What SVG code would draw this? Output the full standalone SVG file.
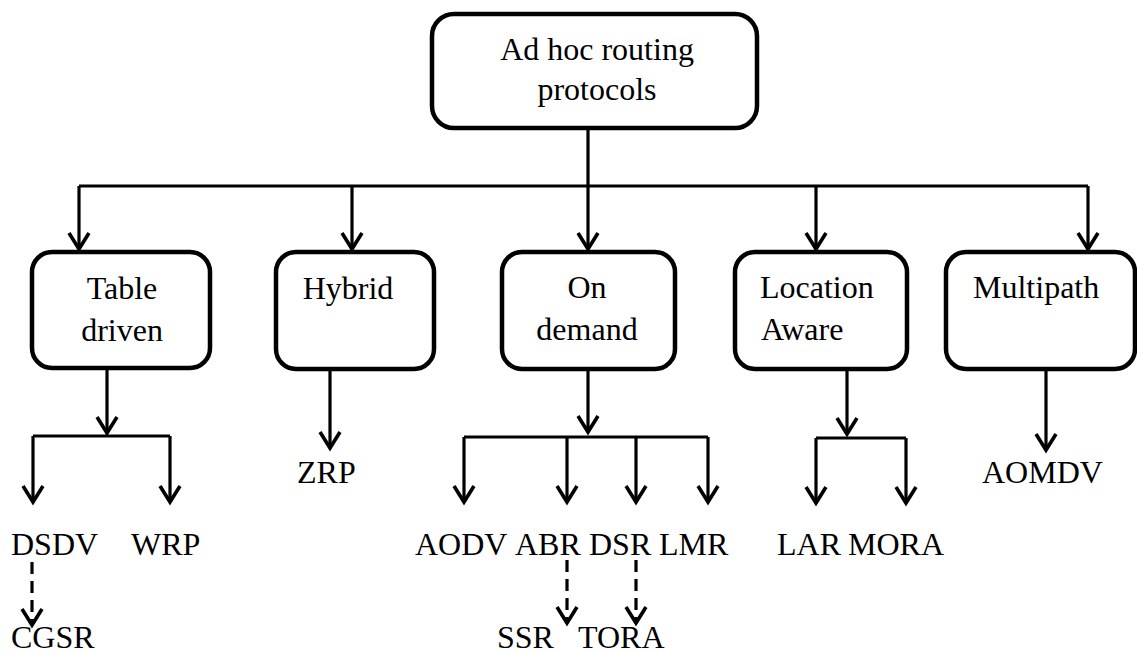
<svg xmlns="http://www.w3.org/2000/svg" width="1137" height="653" viewBox="0 0 1137 653">
<style>
.box{fill:#fff;stroke:#000;stroke-width:4.5}
.ln{fill:none;stroke:#000;stroke-width:3.2}
.arr{marker-end:url(#ah)}
.dash{stroke-dasharray:12 7}
text{font-family:"Liberation Serif","Times New Roman",serif;font-size:32px;fill:#000}
.c{text-anchor:middle}
</style>
<defs>
<marker id="ah" markerUnits="userSpaceOnUse" markerWidth="40" markerHeight="40" refX="0" refY="0" viewBox="-20 -20 40 40" orient="auto" overflow="visible">
<path d="M-16,-10 L0,0 L-16,10" fill="none" stroke="#000" stroke-width="3.6" stroke-linejoin="miter"/>
</marker>
</defs>
<rect width="1137" height="653" fill="#fff"/>
<g id="connectors">
<path class="ln" d="M588,128 V186 M79,186 H1088"/>
<path class="ln arr" d="M79,186 V249"/>
<path class="ln arr" d="M352,186 V249"/>
<path class="ln arr" d="M588,186 V249"/>
<path class="ln arr" d="M816,186 V249"/>
<path class="ln arr" d="M1088,186 V249"/>
<path class="ln arr" d="M107,370 V433"/>
<path class="ln" d="M33,436 H170"/>
<path class="ln arr" d="M33,436 V502"/>
<path class="ln arr" d="M170,436 V502"/>
<path class="ln arr" d="M330,370 V448"/>
<path class="ln arr" d="M588,370 V432"/>
<path class="ln" d="M464,437 H708"/>
<path class="ln arr" d="M464,437 V502"/>
<path class="ln arr" d="M567,437 V502"/>
<path class="ln arr" d="M636,437 V502"/>
<path class="ln arr" d="M708,437 V502"/>
<path class="ln arr" d="M847,370 V434"/>
<path class="ln" d="M816,438 H906"/>
<path class="ln arr" d="M816,438 V503"/>
<path class="ln arr" d="M906,438 V503"/>
<path class="ln arr" d="M1046,370 V450"/>
<path class="ln arr dash" d="M32,562 V625"/>
<path class="ln arr dash" d="M567,560 V623"/>
<path class="ln arr dash" d="M636,560 V623"/>
</g>
<g id="root">
<rect class="box" x="432" y="14" width="325" height="114" rx="22"/>
<text class="c" x="597" y="60">Ad hoc routing</text>
<text class="c" x="597" y="100">protocols</text>
</g>
<g id="table-driven">
<rect class="box" x="32" y="252" width="178" height="116" rx="20"/>
<text class="c" x="122" y="299">Table</text>
<text class="c" x="122" y="341">driven</text>
</g>
<g id="hybrid">
<rect class="box" x="276" y="252" width="158" height="117" rx="20"/>
<text class="c" x="348" y="299">Hybrid</text>
</g>
<g id="on-demand">
<rect class="box" x="502" y="252" width="173" height="117" rx="20"/>
<text class="c" x="587" y="298">On</text>
<text class="c" x="587" y="340">demand</text>
</g>
<g id="location-aware">
<rect class="box" x="735" y="252" width="172" height="117" rx="20"/>
<text x="760" y="298">Location</text>
<text x="761" y="340">Aware</text>
</g>
<g id="multipath">
<rect class="box" x="946" y="252" width="189" height="117" rx="20"/>
<text x="973" y="298">Multipath</text>
</g>
<g id="dsdv"><text x="11" y="555">DSDV</text></g>
<g id="wrp"><text x="131" y="555">WRP</text></g>
<g id="cgsr"><text x="11" y="648">CGSR</text></g>
<g id="zrp"><text x="297" y="483">ZRP</text></g>
<g id="aodv"><text x="415" y="555">AODV</text></g>
<g id="abr"><text x="515" y="555">ABR</text></g>
<g id="dsr"><text x="589" y="555">DSR</text></g>
<g id="lmr"><text x="659" y="555">LMR</text></g>
<g id="ssr"><text x="497" y="648">SSR</text></g>
<g id="tora"><text x="578" y="648">TORA</text></g>
<g id="lar"><text x="777" y="555">LAR</text></g>
<g id="mora"><text x="848" y="555">MORA</text></g>
<g id="aomdv"><text x="982" y="483">AOMDV</text></g>
</svg>
